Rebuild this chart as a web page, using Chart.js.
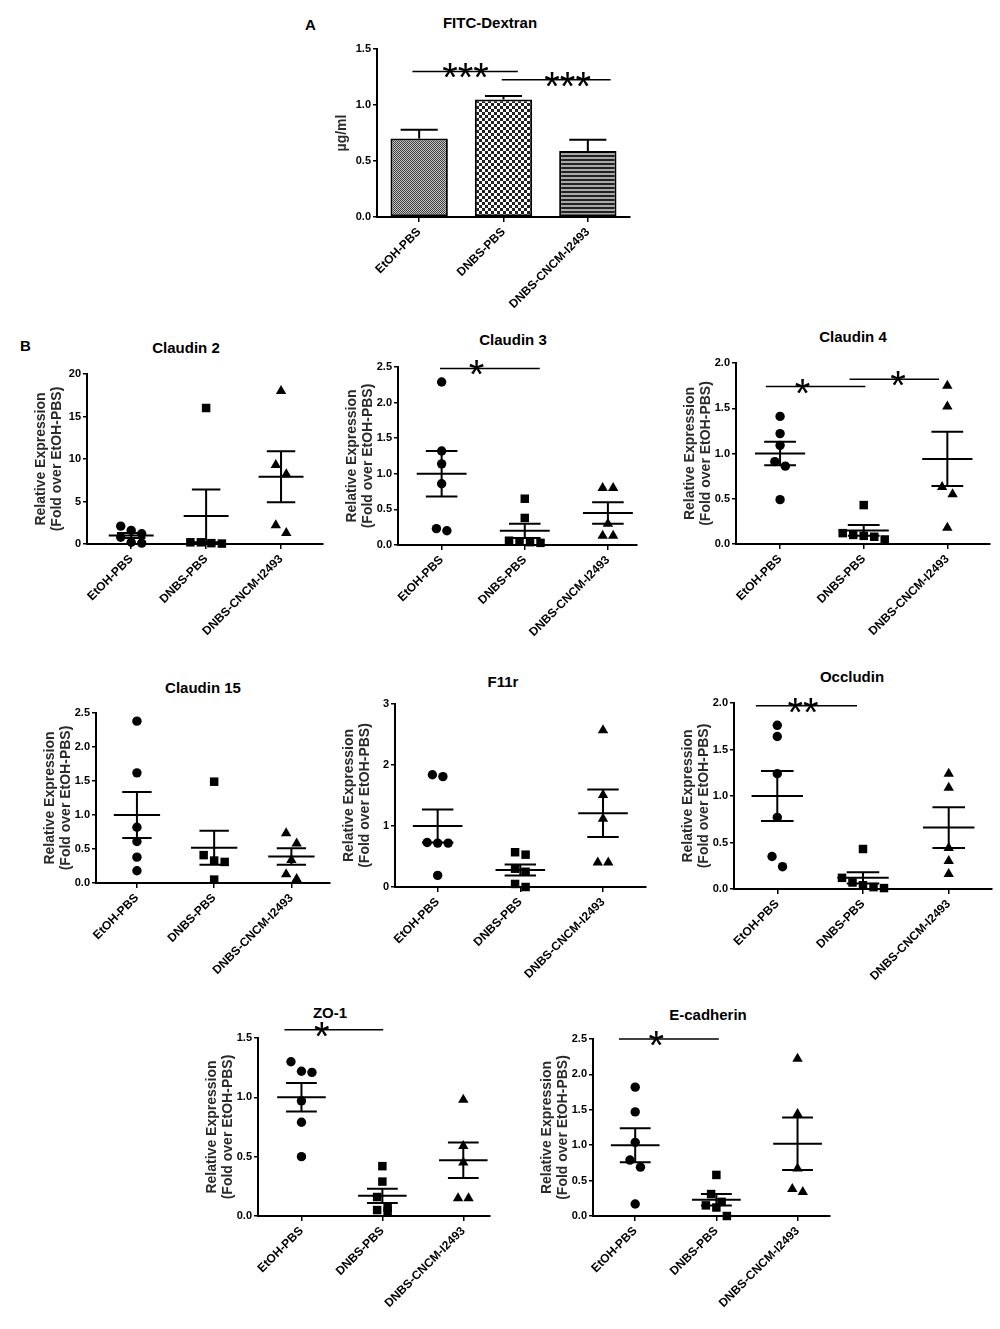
<!DOCTYPE html>
<html>
<head>
<meta charset="utf-8">
<title>FITC-Dextran and tight junction expression</title>
<script src="https://cdn.jsdelivr.net/npm/chart.js@4.4.1/dist/chart.umd.min.js"></script>
<style>
  body { margin: 0; background: #fff; }
  #page { position: relative; width: 1000px; height: 1329px; background: #fff; overflow: hidden;
          font-family: "Liberation Sans", Arial, sans-serif; color: #000; }
  #page canvas { position: absolute; }
  .panel-title { position: absolute; width: 200px; text-align: center; font-weight: bold; font-size: 15px; line-height: 18px; }
  .panel-letter { position: absolute; font-weight: bold; font-size: 15px; line-height: 18px; }
</style>
</head>
<body>
<div id="page"></div>
<script>
// Group names shared by every panel
const groupLabels = ['EtOH-PBS', 'DNBS-PBS', 'DNBS-CNCM-I2493'];

// Panel A - FITC-Dextran (µg/ml), bar = mean, whisker = SEM
const fitcMean = [0.70, 1.05, 0.59];
const fitcSem = [0.08, 0.03, 0.10];
// significance bars: [from group, to group, height, label, label position]
const fitcSig = [[-0.08, 1.17, 1.30, '***', 0.55], [0.98, 2.27, 1.225, '***', 1.76]];

// Panel B - relative expression (fold over EtOH-PBS)
const cldn2Etoh = [2.1, 1.6, 1.2, 0.8, 0.2, 0.1];
const cldn2Dnbs = [16.0, 0.2, 0.2, 0.1, 0.05];
const cldn2Cncm = [18.0, 9.3, 8.2, 2.2, 1.3];
const cldn2Mean = [1.0, 3.3, 7.9];
const cldn2Sem = [0.3, 3.1, 3.0];
const cldn2Sig = [];

const cldn3Etoh = [2.29, 1.32, 1.14, 0.86, 0.23, 0.20];
const cldn3Dnbs = [0.65, 0.38, 0.06, 0.05, 0.04, 0.03];
const cldn3Cncm = [0.80, 0.80, 0.30, 0.13, 0.13];
const cldn3Mean = [1.00, 0.20, 0.45];
const cldn3Sem = [0.32, 0.10, 0.15];
const cldn3Sig = [[-0.02, 1.18, 2.48, '*', 0.42]];

const cldn4Etoh = [1.41, 1.22, 1.09, 0.91, 0.86, 0.49];
const cldn4Dnbs = [0.43, 0.12, 0.10, 0.09, 0.08, 0.05];
const cldn4Cncm = [1.75, 1.52, 0.63, 0.55, 0.18];
const cldn4Mean = [1.00, 0.15, 0.94];
const cldn4Sem = [0.13, 0.06, 0.30];
const cldn4Sig = [[-0.17, 1.02, 1.74, '*', 0.27], [0.83, 1.90, 1.82, '*', 1.41]];

const cldn15Etoh = [2.38, 1.62, 0.82, 0.61, 0.38, 0.18];
const cldn15Dnbs = [1.49, 0.41, 0.33, 0.31, 0.05];
const cldn15Cncm = [0.73, 0.58, 0.34, 0.13, 0.06];
const cldn15Mean = [1.00, 0.52, 0.39];
const cldn15Sem = [0.34, 0.25, 0.12];
const cldn15Sig = [];

const f11rEtoh = [1.84, 1.81, 0.73, 0.72, 0.72, 0.19];
const f11rDnbs = [0.57, 0.53, 0.30, 0.25, 0.05, 0.0];
const f11rCncm = [2.57, 1.51, 1.12, 0.40, 0.40];
const f11rMean = [1.00, 0.28, 1.21];
const f11rSem = [0.27, 0.09, 0.39];
const f11rSig = [];

const occlEtoh = [1.76, 1.64, 1.24, 0.77, 0.35, 0.24];
const occlDnbs = [0.43, 0.12, 0.07, 0.04, 0.02, 0.01];
const occlCncm = [1.24, 1.09, 0.44, 0.30, 0.16];
const occlMean = [1.00, 0.12, 0.66];
const occlSem = [0.27, 0.06, 0.22];
const occlSig = [[-0.25, 0.93, 1.97, '**', 0.30]];

const zo1Etoh = [1.30, 1.22, 1.21, 0.97, 0.79, 0.50];
const zo1Dnbs = [0.42, 0.29, 0.16, 0.07, 0.05, 0.04];
const zo1Cncm = [0.98, 0.59, 0.45, 0.15, 0.15];
const zo1Mean = [1.00, 0.17, 0.47];
const zo1Sem = [0.12, 0.06, 0.15];
const zo1Sig = [[-0.21, 1.01, 1.57, '*', 0.25]];

const ecadEtoh = [1.82, 1.47, 1.04, 0.79, 0.69, 0.17];
const ecadDnbs = [0.58, 0.31, 0.20, 0.15, 0.12, 0.0];
const ecadCncm = [2.22, 1.44, 0.67, 0.38, 0.34];
const ecadMean = [1.00, 0.23, 1.02];
const ecadSem = [0.24, 0.08, 0.37];
const ecadSig = [[-0.20, 1.03, 2.50, '*', 0.26]];

// Layout of each dot-plot panel on the page (axis corner positions in px)
const panels = [
  { title: 'Claudin 2', tx: 186, ty: 348, left: 87, right: 323, top: 374, bottom: 544, xMin: -0.59, xMax: 2.56, yMax: 20, step: 5, dec: 0,
    values: [cldn2Etoh, cldn2Dnbs, cldn2Cncm], mean: cldn2Mean, sem: cldn2Sem, sig: cldn2Sig },
  { title: 'Claudin 3', tx: 513, ty: 340, left: 398, right: 637, top: 367, bottom: 545, xMin: -0.525, xMax: 2.35, yMax: 2.5, step: 0.5, dec: 1,
    values: [cldn3Etoh, cldn3Dnbs, cldn3Cncm], mean: cldn3Mean, sem: cldn3Sem, sig: cldn3Sig },
  { title: 'Claudin 4', tx: 853, ty: 337, left: 736, right: 990, top: 363, bottom: 544, xMin: -0.527, xMax: 2.51, yMax: 2.0, step: 0.5, dec: 1,
    values: [cldn4Etoh, cldn4Dnbs, cldn4Cncm], mean: cldn4Mean, sem: cldn4Sem, sig: cldn4Sig },
  { title: 'Claudin 15', tx: 203, ty: 688, left: 96, right: 330, top: 713, bottom: 883, xMin: -0.53, xMax: 2.50, yMax: 2.5, step: 0.5, dec: 1,
    values: [cldn15Etoh, cldn15Dnbs, cldn15Cncm], mean: cldn15Mean, sem: cldn15Sem, sig: cldn15Sig },
  { title: 'F11r', tx: 503, ty: 682, left: 395, right: 646, top: 704, bottom: 887, xMin: -0.516, xMax: 2.52, yMax: 3, step: 1, dec: 0,
    values: [f11rEtoh, f11rDnbs, f11rCncm], mean: f11rMean, sem: f11rSem, sig: f11rSig },
  { title: 'Occludin', tx: 852, ty: 677, left: 734, right: 992, top: 703, bottom: 889, xMin: -0.505, xMax: 2.505, yMax: 2.0, step: 0.5, dec: 1,
    values: [occlEtoh, occlDnbs, occlCncm], mean: occlMean, sem: occlSem, sig: occlSig },
  { title: 'ZO-1', tx: 330, ty: 1013, left: 258, right: 490, top: 1038, bottom: 1216, xMin: -0.537, xMax: 2.33, yMax: 1.5, step: 0.5, dec: 1,
    values: [zo1Etoh, zo1Dnbs, zo1Cncm], mean: zo1Mean, sem: zo1Sem, sig: zo1Sig },
  { title: 'E-cadherin', tx: 708, ty: 1015, left: 593, right: 830, top: 1039, bottom: 1216, xMin: -0.52, xMax: 2.40, yMax: 2.5, step: 0.5, dec: 1,
    values: [ecadEtoh, ecadDnbs, ecadCncm], mean: ecadMean, sem: ecadSem, sig: ecadSig }
];

const FONT = '"Liberation Sans", Arial, sans-serif';
const AXIS_W = 60, PAD_TOP = 30, PAD_RIGHT = 6, X_AXIS_H = 110;
const DOT_GAP = 10.5, ROW_TOL = 11;
const markers = [
  { style: 'circle', radius: 4.7 },
  { style: 'rect', radius: 6 },
  { style: 'triangle', radius: 6 }
];

const page = document.getElementById('page');

function addText(cls, text, left, top) {
  const d = document.createElement('div');
  d.className = cls;
  d.textContent = text;
  d.style.left = left + 'px';
  d.style.top = top + 'px';
  page.appendChild(d);
}

function placeCanvas(left, top, width, height) {
  const c = document.createElement('canvas');
  c.width = width;
  c.height = height;
  c.style.left = left + 'px';
  c.style.top = top + 'px';
  page.appendChild(c);
  return c;
}

// Spread points that sit at nearly the same height side by side (like a dot plot)
function spreadOffsets(values, pxPerUnit, pxPerGroup) {
  const order = values.map((v, i) => i).sort((a, b) => values[b] - values[a]);
  const offsets = new Array(values.length).fill(0);
  let row = [];
  const flush = () => {
    row.forEach((idx, k) => { offsets[idx] = (k - (row.length - 1) / 2) * DOT_GAP / pxPerGroup; });
    row = [];
  };
  order.forEach(idx => {
    if (row.length && (values[row[0]] - values[idx]) * pxPerUnit >= ROW_TOL) flush();
    row.push(idx);
  });
  flush();
  return offsets;
}

function makePattern(w, h, draw) {
  const c = document.createElement('canvas');
  c.width = w; c.height = h;
  const g = c.getContext('2d');
  draw(g);
  return g.createPattern(c, 'repeat');
}

// Mean line with SEM whiskers for the dot plots
const meanSemPlugin = {
  id: 'meanSem',
  afterDatasetsDraw(chart, args, opts) {
    const { ctx, scales: { x, y } } = chart;
    ctx.save();
    ctx.strokeStyle = '#000';
    ctx.lineWidth = 2;
    opts.mean.forEach((m, i) => {
      const s = opts.sem[i];
      const yMean = y.getPixelForValue(m);
      const yHi = y.getPixelForValue(m + s);
      const yLo = y.getPixelForValue(Math.max(m - s, 0));
      ctx.beginPath();
      ctx.moveTo(x.getPixelForValue(i - 0.3), yMean);
      ctx.lineTo(x.getPixelForValue(i + 0.3), yMean);
      ctx.moveTo(x.getPixelForValue(i), yHi);
      ctx.lineTo(x.getPixelForValue(i), yLo);
      ctx.moveTo(x.getPixelForValue(i - 0.19), yHi);
      ctx.lineTo(x.getPixelForValue(i + 0.19), yHi);
      ctx.moveTo(x.getPixelForValue(i - 0.19), yLo);
      ctx.lineTo(x.getPixelForValue(i + 0.19), yLo);
      ctx.stroke();
    });
    ctx.restore();
  }
};

// Upper SEM whisker for the bar chart
const barErrorPlugin = {
  id: 'barError',
  afterDatasetsDraw(chart, args, opts) {
    const { ctx, scales: { x, y } } = chart;
    ctx.save();
    ctx.strokeStyle = '#000';
    ctx.lineWidth = 2;
    opts.mean.forEach((m, i) => {
      const yTop = y.getPixelForValue(m);
      const yHi = y.getPixelForValue(m + opts.sem[i]);
      ctx.beginPath();
      ctx.moveTo(x.getPixelForValue(i), yTop);
      ctx.lineTo(x.getPixelForValue(i), yHi);
      ctx.moveTo(x.getPixelForValue(i - 0.22), yHi);
      ctx.lineTo(x.getPixelForValue(i + 0.22), yHi);
      ctx.stroke();
    });
    ctx.restore();
  }
};

// Significance bars with asterisks
const sigPlugin = {
  id: 'sigBars',
  afterDraw(chart, args, opts) {
    const { ctx, scales: { x, y } } = chart;
    ctx.save();
    ctx.strokeStyle = '#000';
    ctx.fillStyle = '#000';
    ctx.lineWidth = 1.5;
    ctx.font = '40px ' + FONT;
    ctx.textAlign = 'center';
    ctx.textBaseline = 'alphabetic';
    (opts.items || []).forEach(([x1, x2, v, label, sx]) => {
      const py = y.getPixelForValue(v);
      ctx.beginPath();
      ctx.moveTo(x.getPixelForValue(x1), py);
      ctx.lineTo(x.getPixelForValue(x2), py);
      ctx.stroke();
      ctx.fillText(label, x.getPixelForValue(sx), py + 20);
    });
    ctx.restore();
  }
};

function boldFont(size) {
  return { family: FONT, size: size, weight: 'bold' };
}

function yAxis(yMax, step, dec, title, titlePad) {
  return {
    min: 0,
    max: yMax,
    afterFit: s => { s.width = AXIS_W; },
    ticks: { stepSize: step, color: '#000', font: boldFont(11), padding: 2, callback: v => Number(v).toFixed(dec) },
    grid: { drawOnChartArea: false, drawTicks: true, tickLength: 4, color: '#000', lineWidth: 1.5 },
    border: { color: '#000', width: 2 },
    title: {
      display: true, text: title, color: '#2a2a2a',
      font: { family: FONT, size: 14, weight: 'bold', lineHeight: 1.08 },
      padding: { top: titlePad, bottom: 0 }
    }
  };
}

const xTicks = { autoSkip: false, minRotation: 45, maxRotation: 45, color: '#000', font: boldFont(12), padding: 3 };
const xGrid = { drawOnChartArea: false, drawTicks: true, tickLength: 5, color: '#000', lineWidth: 1.5, offset: false };

// ---- Panel A: bar chart ----
addText('panel-letter', 'A', 305, 16);
addText('panel-title', 'FITC-Dextran', 490 - 100, 14);

const barBox = { left: 377, right: 630, top: 49, bottom: 217 };
const fitcPatterns = [
  makePattern(2, 2, g => {
    g.fillStyle = '#c4c4c4'; g.fillRect(0, 0, 2, 2);
    g.fillStyle = '#404040'; g.fillRect(0, 0, 1, 1); g.fillRect(1, 1, 1, 1);
  }),
  makePattern(6, 6, g => {
    g.fillStyle = '#fff'; g.fillRect(0, 0, 6, 6);
    g.fillStyle = '#222'; g.fillRect(0, 0, 3, 3); g.fillRect(3, 3, 3, 3);
  }),
  makePattern(4, 4, g => {
    g.fillStyle = '#a8a8a8'; g.fillRect(0, 0, 4, 4);
    g.fillStyle = '#222'; g.fillRect(0, 0, 4, 2);
  })
];

const barCanvas = placeCanvas(barBox.left - AXIS_W, barBox.top - PAD_TOP,
  barBox.right - barBox.left + AXIS_W + PAD_RIGHT, barBox.bottom - barBox.top + PAD_TOP + X_AXIS_H);

new Chart(barCanvas, {
  type: 'bar',
  data: {
    labels: groupLabels,
    datasets: [{
      data: fitcMean,
      backgroundColor: fitcPatterns,
      borderColor: '#000',
      borderWidth: 2,
      borderSkipped: false,
      barPercentage: 0.68,
      categoryPercentage: 1
    }]
  },
  options: {
    responsive: false,
    animation: false,
    layout: { padding: { left: 0, top: PAD_TOP, right: PAD_RIGHT, bottom: 0 } },
    plugins: {
      legend: { display: false },
      tooltip: { enabled: false },
      barError: { mean: fitcMean, sem: fitcSem },
      sigBars: { items: fitcSig }
    },
    scales: {
      x: { afterFit: s => { s.height = X_AXIS_H; }, ticks: xTicks, grid: xGrid, border: { color: '#000', width: 2 } },
      y: yAxis(1.5, 0.5, 1, 'µg/ml', 18)
    }
  },
  plugins: [barErrorPlugin, sigPlugin]
});

// ---- Panel B: dot plots ----
addText('panel-letter', 'B', 20, 337);

panels.forEach(p => {
  addText('panel-title', p.title, p.tx - 100, p.ty - 9);
  const canvas = placeCanvas(p.left - AXIS_W, p.top - PAD_TOP,
    p.right - p.left + AXIS_W + PAD_RIGHT, p.bottom - p.top + PAD_TOP + X_AXIS_H);
  const pxPerUnit = (p.bottom - p.top) / p.yMax;
  const pxPerGroup = (p.right - p.left) / (p.xMax - p.xMin);

  const datasets = p.values.map((vals, g) => {
    const off = spreadOffsets(vals, pxPerUnit, pxPerGroup);
    return {
      label: groupLabels[g],
      data: vals.map((v, k) => ({ x: g + off[k], y: v })),
      pointStyle: markers[g].style,
      pointRadius: markers[g].radius,
      pointBackgroundColor: '#000',
      pointBorderColor: '#000',
      pointBorderWidth: 0,
      showLine: false,
      clip: false
    };
  });

  new Chart(canvas, {
    type: 'scatter',
    data: { datasets },
    options: {
      responsive: false,
      animation: false,
      layout: { padding: { left: 0, top: PAD_TOP, right: PAD_RIGHT, bottom: 0 } },
      plugins: {
        legend: { display: false },
        tooltip: { enabled: false },
        meanSem: { mean: p.mean, sem: p.sem },
        sigBars: { items: p.sig }
      },
      scales: {
        x: {
          type: 'linear',
          min: p.xMin,
          max: p.xMax,
          afterBuildTicks: s => { s.ticks = groupLabels.map((g, i) => ({ value: i })); },
          afterFit: s => { s.height = X_AXIS_H; },
          ticks: Object.assign({}, xTicks, { callback: v => groupLabels[v] }),
          grid: xGrid,
          border: { color: '#000', width: 2 }
        },
        y: yAxis(p.yMax, p.step, p.dec, ['Relative Expression', '(Fold over EtOH-PBS)'], 7)
      }
    },
    plugins: [meanSemPlugin, sigPlugin]
  });
});
</script>
</body>
</html>
